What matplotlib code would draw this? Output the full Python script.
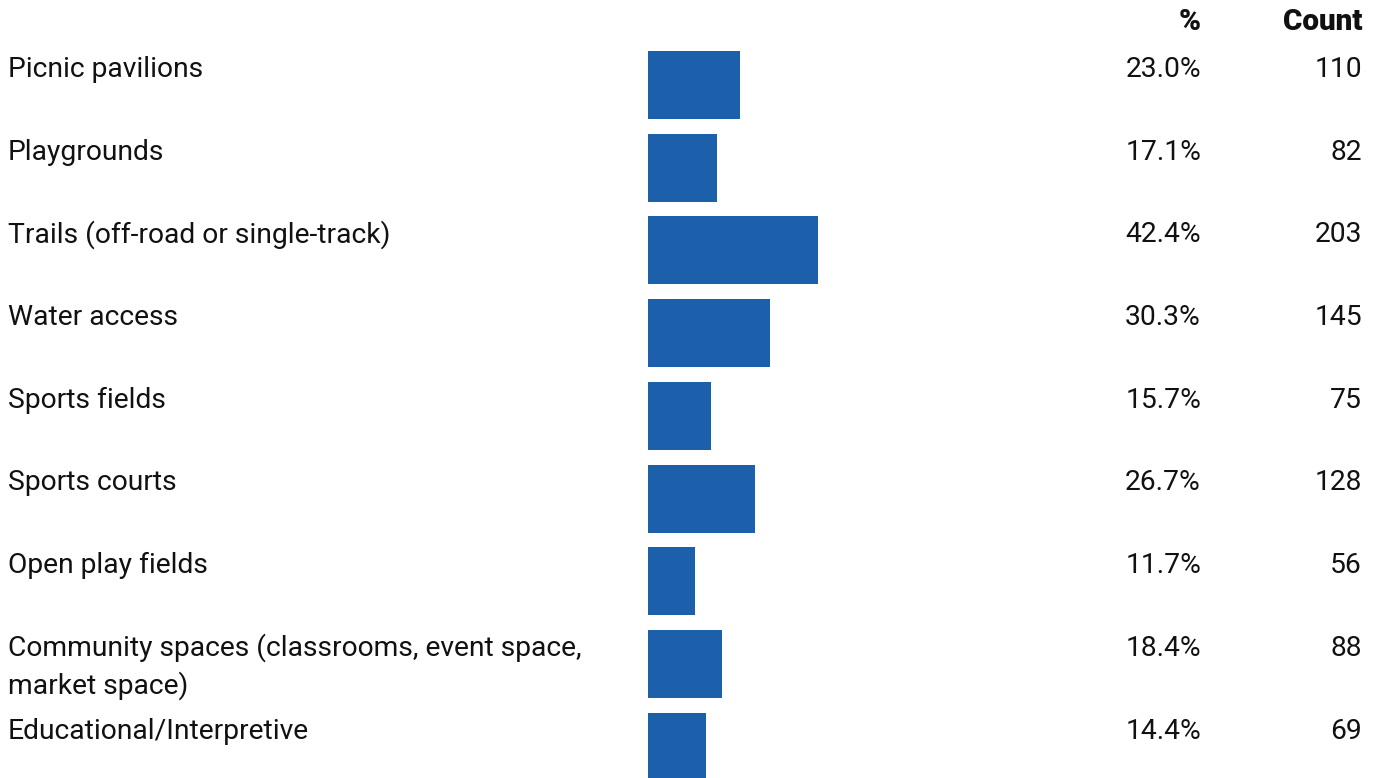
import matplotlib
matplotlib.use("Agg")
import matplotlib.pyplot as plt
import matplotlib.transforms as mtransforms

categories = [
    "Picnic pavilions",
    "Playgrounds",
    "Trails (off-road or single-track)",
    "Water access",
    "Sports fields",
    "Sports courts",
    "Open play fields",
    "Community spaces (classrooms, event space,\nmarket space)",
    "Educational/Interpretive",
]
percents = [23.0, 17.1, 42.4, 30.3, 15.7, 26.7, 11.7, 18.4, 14.4]
counts = [110, 82, 203, 145, 75, 128, 56, 88, 69]
headers = ["%", "Count"]

W, H = 1374, 778
DPI = 100
plt.rcParams['font.family'] = ['Roboto', 'DejaVu Sans']
FS = 20.3
BAR_COLOR = "#1c5faa"
TXT = "#111111"

fig = plt.figure(figsize=(W / DPI, H / DPI), dpi=DPI)
fig.patch.set_facecolor("white")

pitch = 82.7
top_center = 85.0
x0 = 648
px_per_pct = 4.02
ax = fig.add_axes([x0 / W, 0, (100 * px_per_pct) / W, 1])
ax.set_xlim(0, 100)
ax.set_ylim((H - top_center) / pitch, -top_center / pitch)
ax.axis("off")

bh = 68 / pitch
ys = list(range(len(categories)))
ax.barh(ys, percents, height=bh, color=BAR_COLOR, left=0)

trans = mtransforms.blended_transform_factory(fig.transFigure, ax.transData)
base_off = -bh / 2 + 26 / pitch
line_gap = 38 / pitch
for i, (c, p, n) in enumerate(zip(categories, percents, counts)):
    y = i + base_off
    for k, line in enumerate(c.split("\n")):
        ax.text(8 / W, y + k * line_gap, line, transform=trans, ha="left",
                va="baseline", fontsize=FS, color=TXT)
    ax.text(1201 / W, y, f"{p:.1f}%", transform=trans, ha="right",
            va="baseline", fontsize=FS, color=TXT)
    ax.text(1362 / W, y, f"{n}", transform=trans, ha="right",
            va="baseline", fontsize=FS, color=TXT)

hy = (30 - top_center) / pitch
ax.text(1201 / W, hy, headers[0], transform=trans, ha="right", va="baseline",
        fontsize=FS + 1, fontweight="heavy", color=TXT)
ax.text(1362 / W, hy, headers[1], transform=trans, ha="right", va="baseline",
        fontsize=FS + 1, fontweight="heavy", color=TXT)

fig.savefig("out.png", dpi=DPI, facecolor="white")
